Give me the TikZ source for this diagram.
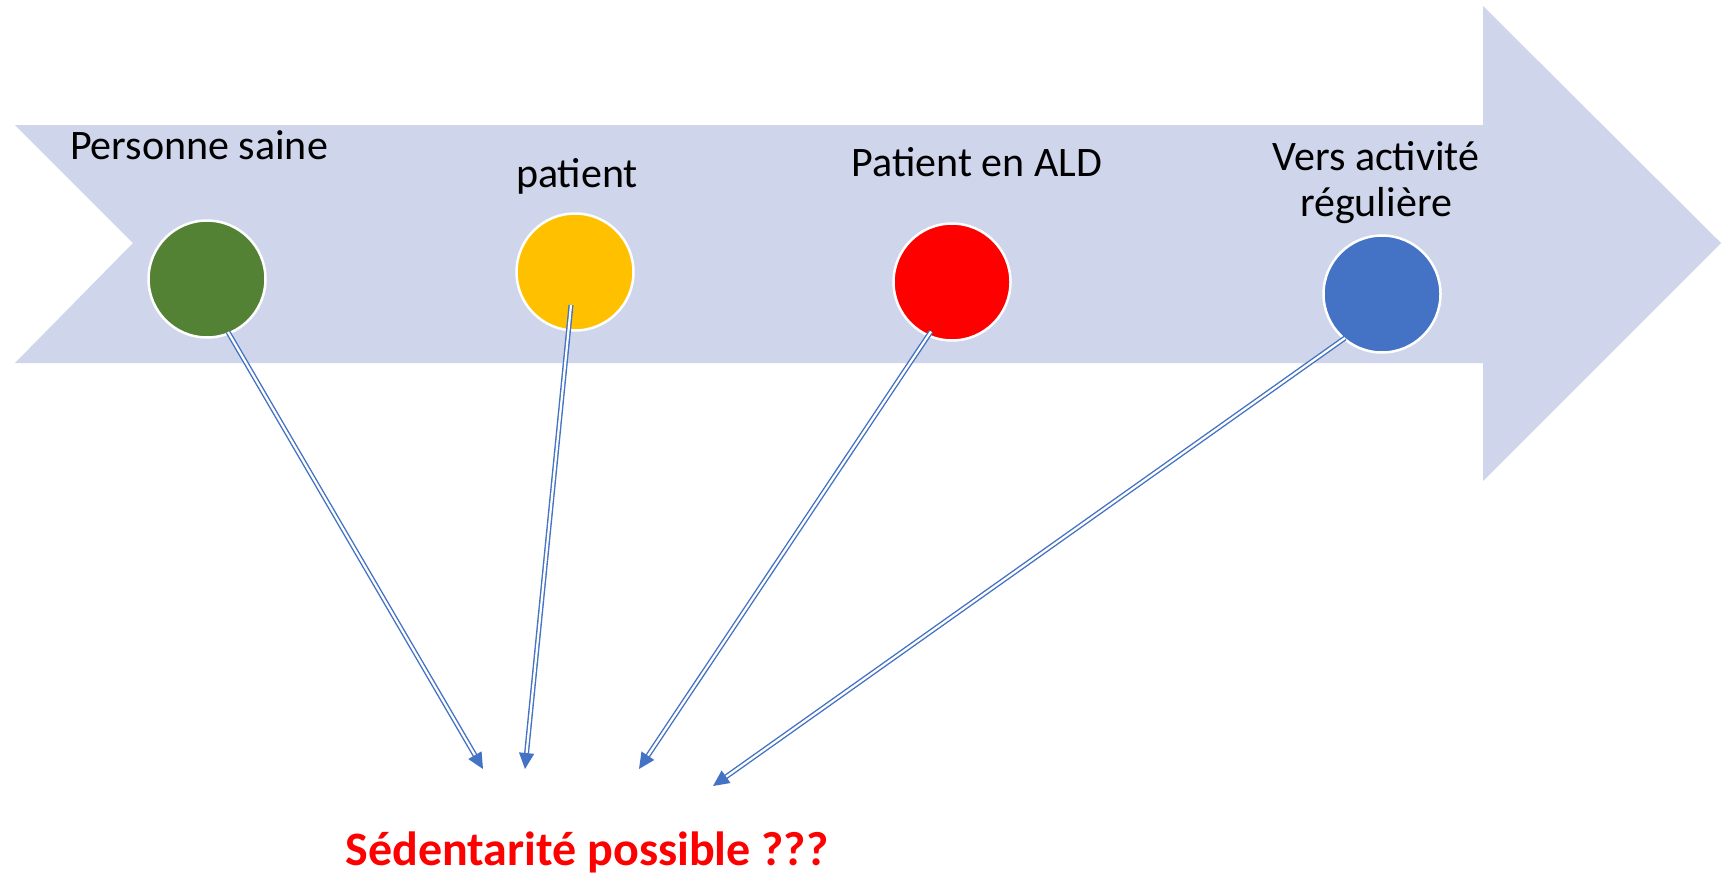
\documentclass[tikz,border=0pt]{standalone}
\usepackage{fontspec}
\setmainfont{Carlito}
\usetikzlibrary{arrows.meta,calc}
\definecolor{bandcol}{HTML}{CFD5EA}
\definecolor{cgreen}{HTML}{548235}
\definecolor{cyellow}{HTML}{FFC000}
\definecolor{cred}{HTML}{FF0000}
\definecolor{cblue}{HTML}{4472C4}
\tikzset{
  dot/.style={circle, minimum size=117pt, inner sep=0pt, draw=white, line width=2.5pt},
  lbl/.style={anchor=base, font=\fontsize{42}{48}\selectfont, text=black, inner sep=0pt, align=center},
  conn/.style={draw=cblue, double=white, double distance=2.2pt, line width=1.4pt,
     -{Triangle[length=16pt,width=15pt]}},
}
\begin{document}
\begin{tikzpicture}[x=1pt,y=-1pt]
\useasboundingbox[fill=white] (0,0) rectangle (1721,878);
% big arrow
\fill[bandcol] (15,125) -- (1483,125) -- (1483,6) -- (1721,243) -- (1483,481) -- (1483,363) -- (15,363) -- (133,243) -- cycle;
% circles
\node[dot, fill=cgreen] (g) at (207,279) {};
\node[dot, fill=cyellow] (y) at (575,272) {};
\node[dot, fill=cred] (r) at (952,282) {};
\node[dot, fill=cblue] (b) at (1382,294) {};
% labels
\node[lbl] (lg) at (199,159) {Personne saine};
\node[lbl] (ly) at (577,187) {patient};
\node[lbl] (lr) at (977,176) {Patient en ALD};
\node[lbl] (lb1) at (1376,170) {Vers activité};
\node[lbl] (lb2) at (1376,216) {régulière};
\node[anchor=base, inner sep=0pt, font=\bfseries\fontsize{48}{56}\selectfont, text=cred] (q) at (587,865) {Sédentarité possible ???};
% free ends
\coordinate (t1) at (483,769);
\coordinate (t2) at (525,769);
\coordinate (t3) at (639,769);
\coordinate (t4) at (713,786);
% connectors
\draw[conn] ($(g.center)+(21,53)$) -- (t1);
\draw[conn] ($(y.center)+(-4,33)$) -- (t2);
\draw[conn] ($(r.center)+(-21,49.5)$) -- (t3);
\draw[conn] ($(b.center)+(-37,44)$) -- (t4);
\end{tikzpicture}
\end{document}
